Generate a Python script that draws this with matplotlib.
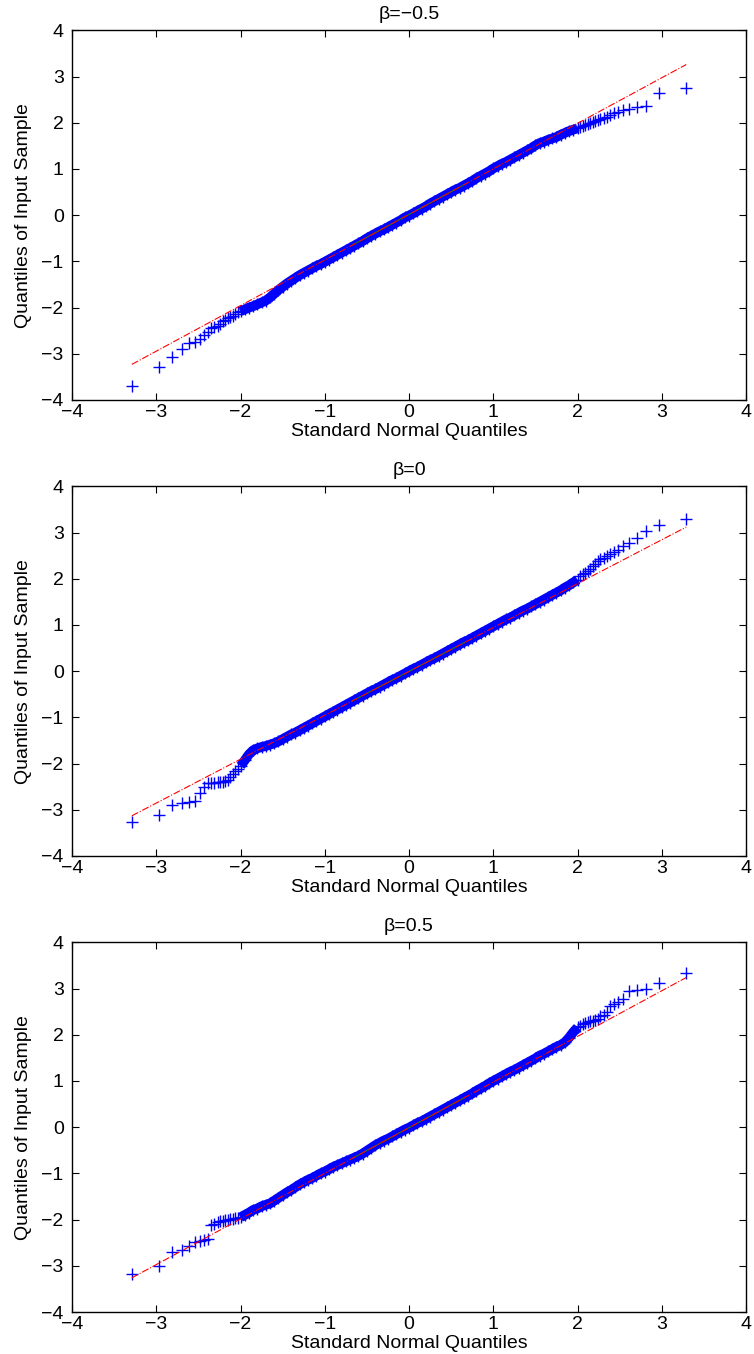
import numpy as np
import matplotlib
matplotlib.use("Agg")
import matplotlib.pyplot as plt

plt.rcParams['font.family'] = ['Liberation Sans', 'DejaVu Sans']
plt.rcParams['axes.unicode_minus'] = True

titles = ["β=−0.5", "β=0", "β=0.5"]

# theoretical quantiles (shared by all panels, n = 1000)
x_lo = [-3.29, -2.97, -2.81, -2.70, -2.61, -2.54, -2.48, -2.43, -2.39, -2.35,
        -2.31, -2.27, -2.24, -2.21, -2.18, -2.15, -2.12, -2.09, -2.06, -2.03]
x_mid = [-2.00, -1.95, -1.90, -1.85, -1.80, -1.75, -1.70, -1.65, -1.60, -1.55,
         -1.50, -1.45, -1.40, -1.35, -1.30, -1.25, -1.20, -1.15, -1.10, -1.05,
         -1.00, -0.95, -0.90, -0.85, -0.80, -0.75, -0.70, -0.65, -0.60, -0.55,
         -0.50, -0.45, -0.40, -0.35, -0.30, -0.25, -0.20, -0.15, -0.10, -0.05,
         0.00, 0.05, 0.10, 0.15, 0.20, 0.25, 0.30, 0.35, 0.40, 0.45,
         0.50, 0.55, 0.60, 0.65, 0.70, 0.75, 0.80, 0.85, 0.90, 0.95,
         1.00, 1.05, 1.10, 1.15, 1.20, 1.25, 1.30, 1.35, 1.40, 1.45,
         1.50, 1.55, 1.60, 1.65, 1.70, 1.75, 1.80, 1.85, 1.90, 1.95, 2.00]
x_hi = [2.03, 2.06, 2.09, 2.12, 2.15, 2.18, 2.21, 2.24, 2.27, 2.31,
        2.35, 2.39, 2.43, 2.48, 2.54, 2.61, 2.70, 2.81, 2.97, 3.29]

# sample quantiles, beta = -0.5
y1_lo = [-3.69, -3.28, -3.08, -2.89, -2.77, -2.75, -2.68, -2.60, -2.52, -2.45,
         -2.42, -2.39, -2.35, -2.30, -2.26, -2.23, -2.21, -2.18, -2.14, -2.10]
y1_mid = [-2.08, -2.04, -2.00, -1.97, -1.93, -1.89, -1.85, -1.78, -1.70, -1.62,
          -1.55, -1.48, -1.42, -1.36, -1.30, -1.25, -1.20, -1.15, -1.10, -1.06,
          -1.01, -0.96, -0.91, -0.86, -0.81, -0.76, -0.71, -0.66, -0.61, -0.56,
          -0.50, -0.45, -0.40, -0.35, -0.31, -0.26, -0.21, -0.16, -0.11, -0.05,
          -0.01, 0.04, 0.09, 0.14, 0.19, 0.25, 0.30, 0.35, 0.40, 0.45,
          0.50, 0.55, 0.59, 0.64, 0.69, 0.74, 0.80, 0.85, 0.90, 0.95,
          1.01, 1.06, 1.11, 1.15, 1.20, 1.25, 1.30, 1.35, 1.40, 1.45,
          1.51, 1.56, 1.59, 1.63, 1.66, 1.69, 1.74, 1.78, 1.82, 1.85, 1.88]
y1_hi = [1.91, 1.93, 1.95, 1.97, 1.99, 2.01, 2.04, 2.06, 2.08, 2.11,
         2.13, 2.16, 2.20, 2.23, 2.27, 2.30, 2.33, 2.37, 2.64, 2.76]

# sample quantiles, beta = 0
y2_lo = [-3.27, -3.11, -2.90, -2.86, -2.83, -2.81, -2.64, -2.50, -2.43, -2.42,
         -2.41, -2.40, -2.39, -2.39, -2.38, -2.36, -2.30, -2.22, -2.16, -2.11]
y2_mid = [-2.05, -1.93, -1.80, -1.71, -1.67, -1.64, -1.62, -1.59, -1.56, -1.52,
          -1.47, -1.42, -1.37, -1.33, -1.28, -1.23, -1.18, -1.13, -1.08, -1.03,
          -0.98, -0.93, -0.88, -0.83, -0.78, -0.73, -0.68, -0.63, -0.58, -0.53,
          -0.48, -0.43, -0.39, -0.34, -0.29, -0.24, -0.19, -0.15, -0.10, -0.05,
          0.00, 0.05, 0.09, 0.14, 0.19, 0.24, 0.28, 0.33, 0.38, 0.43,
          0.48, 0.53, 0.58, 0.63, 0.67, 0.72, 0.77, 0.82, 0.87, 0.92,
          0.97, 1.02, 1.07, 1.12, 1.16, 1.21, 1.26, 1.31, 1.35, 1.40,
          1.45, 1.50, 1.55, 1.60, 1.65, 1.70, 1.75, 1.81, 1.86, 1.92, 1.98]
y2_hi = [2.06, 2.10, 2.13, 2.17, 2.22, 2.28, 2.33, 2.38, 2.42, 2.46,
         2.49, 2.53, 2.57, 2.62, 2.70, 2.78, 2.89, 3.03, 3.16, 3.30]

# sample quantiles, beta = 0.5
y3_lo = [-3.18, -3.00, -2.71, -2.66, -2.57, -2.49, -2.47, -2.44, -2.41, -2.12,
         -2.09, -2.06, -2.04, -2.02, -2.01, -2.00, -1.99, -1.98, -1.97, -1.96]
y3_mid = [-1.95, -1.90, -1.85, -1.79, -1.76, -1.71, -1.68, -1.65, -1.59, -1.53,
          -1.47, -1.41, -1.36, -1.30, -1.24, -1.19, -1.14, -1.10, -1.05, -1.00,
          -0.96, -0.91, -0.86, -0.82, -0.78, -0.74, -0.70, -0.66, -0.62, -0.57,
          -0.51, -0.45, -0.39, -0.34, -0.29, -0.25, -0.20, -0.15, -0.10, -0.05,
          -0.01, 0.04, 0.09, 0.13, 0.18, 0.23, 0.28, 0.33, 0.38, 0.43,
          0.48, 0.53, 0.58, 0.63, 0.68, 0.73, 0.79, 0.84, 0.89, 0.95,
          1.00, 1.05, 1.10, 1.15, 1.20, 1.24, 1.29, 1.34, 1.39, 1.44,
          1.49, 1.55, 1.59, 1.64, 1.69, 1.74, 1.78, 1.84, 1.94, 2.06, 2.16]
y3_hi = [2.20, 2.23, 2.25, 2.27, 2.29, 2.30, 2.31, 2.35, 2.40, 2.43,
         2.50, 2.62, 2.67, 2.72, 2.78, 2.95, 2.98, 3.00, 3.13, 3.34]

# reference lines (end points) and quartile segments
ref_x = [-3.29, 3.29]
ref_y = [[-3.23, 3.26], [-3.13, 3.12], [-3.26, 3.24]]
quart_x = [-0.67, 0.67]

samples = [(y1_lo, y1_mid, y1_hi), (y2_lo, y2_mid, y2_hi), (y3_lo, y3_mid, y3_hi)]
xs = x_lo + x_mid + x_hi

fig = plt.figure(figsize=(7.54, 13.54), dpi=100)
bottoms = [0.7046, 0.3678, 0.031]
ticks = [-4, -3, -2, -1, 0, 1, 2, 3, 4]
ticklabels = [str(t).replace("-", "−") for t in ticks]
fs = 14

for i in range(3):
    ax = fig.add_axes([0.0955, bottoms[i], 0.894, 0.273])
    lo, mid, hi = samples[i]
    ys = lo + mid + hi
    # dense middle of the sample: 1000 overlapping markers form a solid band
    ax.plot(x_mid, mid, '-', color='#0000ff', lw=7, solid_capstyle='butt',
            solid_joinstyle='round')
    ax.plot(xs, ys, '+', color='#0000ff', markersize=8.5, markeredgewidth=1.0)
    qy = np.interp(quart_x, ref_x, ref_y[i])
    ax.plot(quart_x, qy, '-', color='#1f6f1f', lw=0.9)
    ax.plot(ref_x, ref_y[i], '-.', color='#ff0000', lw=0.8)
    ax.set_xlim(-4, 4)
    ax.set_ylim(-4, 4)
    ax.set_xticks(ticks)
    ax.set_yticks(ticks)
    ax.set_xticklabels(ticklabels, fontsize=fs)
    ax.set_yticklabels(ticklabels, fontsize=fs)
    ax.tick_params(direction='in', top=True, right=True, length=5, width=0.8)
    ax.tick_params(axis='x', pad=3)
    ax.tick_params(axis='y', pad=6)
    for s in ax.spines.values():
        s.set_linewidth(1.0)
    ax.set_xlabel("Standard Normal Quantiles", fontsize=fs, labelpad=1)
    ax.set_ylabel("Quantiles of Input Sample", fontsize=fs, labelpad=7)
    ax.set_title(titles[i], fontsize=fs, pad=8)

fig.savefig("out.png", dpi=100)
